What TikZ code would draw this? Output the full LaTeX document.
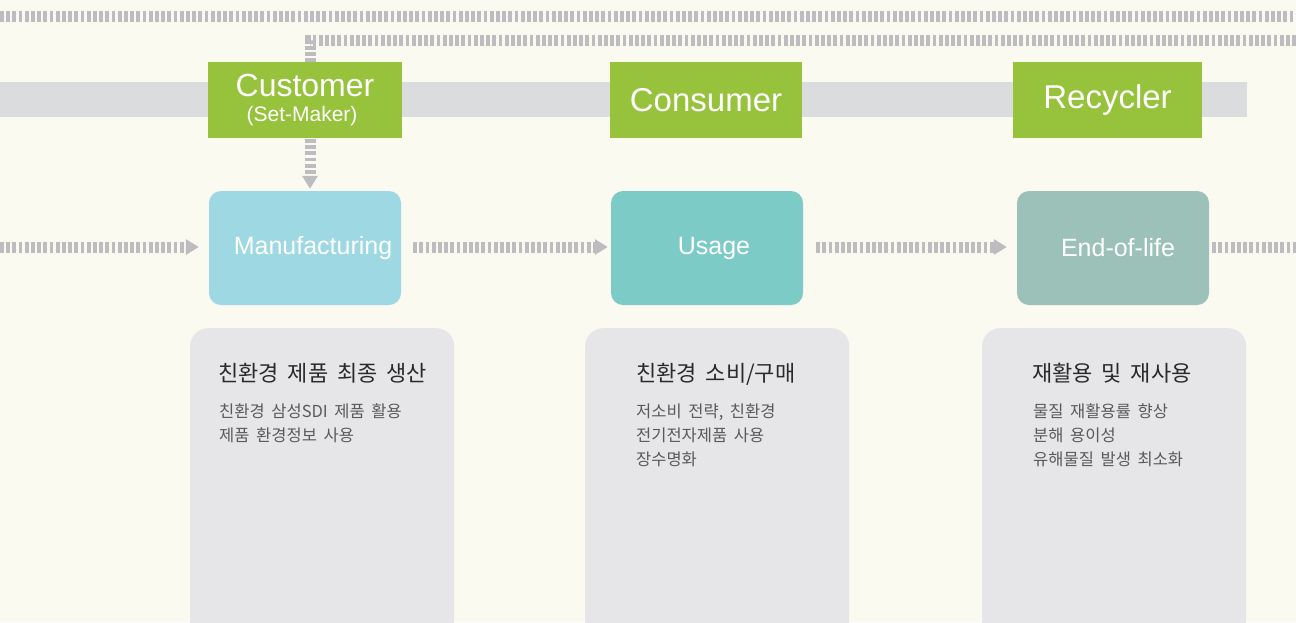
\documentclass[tikz,border=0pt]{standalone}
\usepackage{fontspec}
\setmainfont{Liberation Sans}
\newfontfamily\kr[WordSpace=1.8]{Noto Sans CJK KR}
\usetikzlibrary{arrows.meta}
\definecolor{bg}{HTML}{FAFAF1}
\definecolor{band}{HTML}{DBDCDE}
\definecolor{dashc}{HTML}{BDBDC1}
\definecolor{grn}{HTML}{96C23C}
\definecolor{manuc}{HTML}{9DD8E3}
\definecolor{usagec}{HTML}{7CCBC7}
\definecolor{eolc}{HTML}{9BC1B8}
\definecolor{descc}{HTML}{E6E6E8}
\definecolor{titlec}{HTML}{2A2A2A}
\definecolor{bodyc}{HTML}{5A5A5A}
\tikzset{
  dashline/.style={draw=dashc, line width=11pt, dash pattern=on 3.8pt off 2.4pt},
  arrowtip/.style={-{Triangle[length=13pt,width=15pt]}},
  greenbox/.style={fill=grn, minimum width=#1, minimum height=76pt, inner sep=0pt},
  procbox/.style={rounded corners=12pt, minimum width=192pt, minimum height=114pt, inner sep=0pt,
    text=white, font=\fontsize{25}{25}\selectfont},
  descbox/.style={fill=descc, rounded corners=18pt, minimum width=264pt, minimum height=330pt, anchor=north west},
  gtext/.style={text=white, inner sep=0pt},
  desctitle/.style={anchor=base west, inner sep=0pt, text=titlec, font=\kr\fontsize{22}{22}\selectfont},
  descbody/.style={anchor=north west, inner sep=0pt, align=left, text=bodyc, font=\kr\fontsize{16.5}{24}\selectfont},
}
\begin{document}
\begin{tikzpicture}[x=1pt,y=-1pt]
\useasboundingbox (0,0) rectangle (1296,622);
\clip (0,0) rectangle (1296,622);
\fill[bg] (0,0) rectangle (1296,622);
% gray band
\fill[band] (0,82) rectangle (1247,117);
% top dashed line
\coordinate (tl) at (0,16);
\coordinate (tr) at (1296,16);
\draw[dashline] (tl) -- (tr);
% green role boxes
\node[greenbox=194pt] (cust) at (305,100) {};
\node[greenbox=192pt] (cons) at (706,100) {};
\node[greenbox=189pt] (recy) at (1107.5,100) {};
% process boxes
\node[procbox, fill=manuc] (manu) at (305,248) {\hspace*{16pt}Manufacturing};
\node[procbox, fill=usagec] (usage) at (707,248) {\hspace*{14pt}Usage};
\node[procbox, fill=eolc] (eol) at (1113,248) {\hspace*{10pt}End-of-life};
% second dashed line with turn down to Manufacturing
\coordinate (r2) at (1296,40);
\coordinate (corner) at (310,40);
\draw[dashline, arrowtip, shorten >=2pt] (r2) -- (corner) -- (corner |- manu.north);
% redraw customer box over the vertical line
\node[greenbox=194pt] (cust2) at (cust) {};
\node[gtext, font=\fontsize{32}{32}\selectfont] (custt) at (305,85) {Customer};
\node[gtext, font=\fontsize{21}{21}\selectfont] (custs) at (302,116) {(Set-Maker)};
\node[gtext, font=\fontsize{33}{33}\selectfont] (const) at (cons) {Consumer};
\node[gtext, font=\fontsize{33}{33}\selectfont] (recyt) at (recy) {Recycler};
% horizontal flow arrows
\coordinate (lin) at (0,247);
\coordinate (rout) at (1296,247);
\draw[dashline, arrowtip, shorten >=10pt] (lin) -- (lin -| manu.west);
\draw[dashline, arrowtip, shorten <=12pt, shorten >=3pt] (manu.east |- lin) -- (usage.west |- lin);
\draw[dashline, arrowtip, shorten <=13pt, shorten >=10pt] (usage.east |- lin) -- (eol.west |- lin);
\draw[dashline, shorten <=3pt] (eol.east |- lin) -- (rout);
% description boxes
\node[descbox] (d1) at (190,328) {};
\node[descbox] (d2) at (585,328) {};
\node[descbox] (d3) at (982,328) {};
\node[desctitle] (t1) at (218,381) {친환경 제품 최종 생산};
\node[descbody] (b1) at (219,404) {친환경 삼성SDI 제품 활용\\제품 환경정보 사용};
\node[desctitle] (t2) at (636,381) {친환경 소비/구매};
\node[descbody] (b2) at (636,404) {저소비 전략, 친환경\\전기전자제품 사용\\장수명화};
\node[desctitle] (t3) at (1032,381) {재활용 및 재사용};
\node[descbody] (b3) at (1033,404) {물질 재활용률 향상\\분해 용이성\\유해물질 발생 최소화};
\end{tikzpicture}
\end{document}
